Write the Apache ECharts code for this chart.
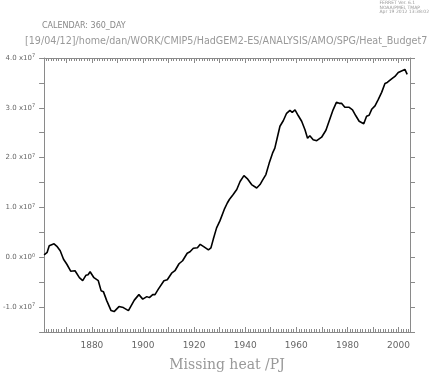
<!DOCTYPE html>
<html>
  <head>
    <meta charset="utf-8" />
    <title>Heat budget</title>
    <script src="https://cdn.jsdelivr.net/npm/echarts@6.0.0/dist/echarts.min.js"></script>
    <style>
      body { margin: 0; background: #fff; }
    </style>
  </head>
  <body>
    <div id="main" style="width: 434px; height: 377px"></div>

    <script type="text/javascript">
      // years (decimal year) and values in units of 1e7 PJ
      const years = [
        1861.3, 1862.5, 1863.3, 1865.2, 1866.3, 1867.6, 1868.9, 1870.2, 1871.7, 1873.4,
        1875.1, 1876.4, 1877.7, 1878.5, 1879.3, 1880.8, 1882.5, 1883.6, 1884.5, 1885.8,
        1887.5, 1888.7, 1890.6, 1892.3, 1894.3, 1896.6, 1898.4, 1899.9, 1901.5, 1902.5,
        1903.8, 1904.7, 1906.0, 1908.2, 1909.5, 1911.2, 1912.5, 1914.1, 1915.5, 1917.3,
        1918.4, 1919.7, 1921.3, 1922.4, 1923.9, 1925.6, 1926.6, 1927.5, 1928.8, 1930.1,
        1931.8, 1933.0, 1933.8, 1934.4, 1935.3, 1936.7, 1938.0, 1939.5, 1940.8, 1942.5,
        1944.5, 1945.8, 1946.8, 1948.1, 1949.4, 1950.7, 1951.6, 1952.5, 1953.6, 1954.9,
        1956.2, 1957.5, 1958.4, 1959.5, 1960.8, 1962.1, 1963.4, 1964.4, 1965.3, 1966.6,
        1968.0, 1969.9, 1971.6, 1973.1, 1974.4, 1975.7, 1976.8, 1977.7, 1979.0, 1980.7,
        1982.0, 1983.3, 1984.6, 1986.4, 1987.5, 1988.5, 1989.5, 1990.8, 1992.1, 1993.4,
        1994.7, 1995.6, 1997.3, 1998.6, 1999.9, 2001.2, 2002.5, 2003.4
      ]
      const heat = [
        0.05, 0.10, 0.23, 0.27, 0.22, 0.13, -0.04, -0.14, -0.28, -0.27,
        -0.41, -0.47, -0.36, -0.35, -0.29, -0.41, -0.47, -0.67, -0.69, -0.87,
        -1.07, -1.09, -0.99, -1.01, -1.07, -0.86, -0.75, -0.84, -0.79, -0.81,
        -0.75, -0.75, -0.64, -0.47, -0.45, -0.32, -0.27, -0.13, -0.07, 0.08,
        0.11, 0.18, 0.19, 0.26, 0.21, 0.15, 0.19, 0.36, 0.59, 0.73,
        0.96, 1.09, 1.16, 1.13, 1.26, 1.36, 1.52, 1.64, 1.58, 1.46,
        1.39, 1.46, 1.55, 1.66, 1.89, 2.09, 2.19, 2.39, 2.63, 2.74,
        2.89, 2.95, 2.91, 2.96, 2.84, 2.73, 2.56, 2.39, 2.44, 2.36,
        2.34, 2.41, 2.55, 2.77, 2.96, 3.11, 3.09, 3.09, 3.01, 3.01,
        2.96, 2.84, 2.73, 2.68, 2.83, 2.85, 2.97, 3.04, 3.17, 3.31,
        3.49, 3.51, 3.58, 3.63, 3.71, 3.74, 3.77, 3.67
      ]

      // tick labels
      const xLabels = [1880, 1900, 1920, 1940, 1960, 1980, 2000]
      const decadeTicks = [1870, 1880, 1890, 1900, 1910, 1920, 1930, 1940, 1950, 1960, 1970, 1980, 1990, 2000]
      const yearTicks = []
      for (let y = 1862; y <= 2004; y++) yearTicks.push(y)
      const yLabels = { '4': '4.0', '3': '3.0', '2': '2.0', '1': '1.0', '0': '0.0', '-1': '-1.0' }

      const data = years.map((yr, i) => [yr, heat[i]])

      const xMin = 1861.3
      const xMax = 2004.5
      const grey = '#8a8a8a'

      // one hidden-label x axis per tick set, on top and bottom
      function tickAxis(pos, ticks, len, showLine) {
        return {
          type: 'value',
          position: pos,
          min: xMin,
          max: xMax,
          axisLine: { show: showLine, onZero: false, lineStyle: { color: grey, width: 1 } },
          axisTick: { show: true, inside: true, length: len, customValues: ticks, lineStyle: { color: grey, width: 1 } },
          axisLabel: { show: false },
          splitLine: { show: false }
        }
      }

      var myChart = echarts.init(document.getElementById('main'))

      const option = {
        animation: false,
        backgroundColor: '#fff',
        title: [
          {
            text: 'FERRET Ver. 6.1\nNOAA/PMEL TMAP\nApr 19 2012 13:38:02',
            right: 5,
            top: 1,
            padding: 0,
            textStyle: { fontSize: 4.5, lineHeight: 4.5, fontWeight: 'normal', color: '#999', fontFamily: 'DejaVu Sans', align: 'center' }
          },
          {
            text: 'CALENDAR: 360_DAY',
            left: 42,
            top: 22,
            padding: 0,
            textStyle: { fontSize: 8, fontWeight: 'normal', color: '#888', fontFamily: 'DejaVu Sans' }
          },
          {
            text: '[19/04/12]/home/dan/WORK/CMIP5/HadGEM2-ES/ANALYSIS/AMO/SPG/Heat_Budget7',
            left: 25,
            top: 36,
            padding: 0,
            textStyle: { fontSize: 9.6, fontWeight: 'normal', color: '#999', fontFamily: 'DejaVu Sans' }
          }
        ],
        grid: { left: 44, right: 24, top: 58, bottom: 44 },
        xAxis: [
          {
            type: 'value',
            position: 'bottom',
            min: xMin,
            max: xMax,
            name: 'Missing heat /PJ',
            nameLocation: 'middle',
            nameGap: 26,
            nameTextStyle: { fontFamily: 'DejaVu Serif', fontSize: 14, color: '#999' },
            axisLine: { onZero: false, lineStyle: { color: grey, width: 1 } },
            axisTick: { show: true, inside: true, length: 5, customValues: decadeTicks, lineStyle: { color: grey } },
            axisLabel: {
              customValues: xLabels,
              margin: 9,
              fontSize: 9,
              color: '#666',
              fontFamily: 'DejaVu Sans',
              formatter: (v) => String(v)
            },
            splitLine: { show: false }
          },
          tickAxis('bottom', yearTicks, 3, false),
          tickAxis('top', decadeTicks, 5, true),
          tickAxis('top', yearTicks, 3, false)
        ],
        yAxis: [
          {
            type: 'value',
            position: 'left',
            min: -1.5,
            max: 4.0,
            interval: 0.5,
            axisLine: { show: true, onZero: false, lineStyle: { color: grey, width: 1 } },
            axisTick: { show: true, length: 5, lineStyle: { color: grey } },
            axisLabel: {
              margin: 9,
              formatter: function (v) {
                const key = String(Math.round(v * 10) / 10)
                if (!(key in yLabels)) return ''
                return '{m|' + yLabels[key] + ' x10}{s|' + (v === 0 ? '0' : '7') + '}'
              },
              rich: {
                m: { fontSize: 7, color: '#666', fontFamily: 'DejaVu Sans' },
                s: { fontSize: 5, color: '#666', fontFamily: 'DejaVu Sans', verticalAlign: 'bottom', padding: [0, 0, 4, 0] }
              }
            },
            splitLine: { show: false }
          },
          {
            type: 'value',
            position: 'right',
            min: -1.5,
            max: 4.0,
            interval: 0.5,
            axisLine: { show: true, onZero: false, lineStyle: { color: grey, width: 1 } },
            axisTick: { show: true, length: 5, lineStyle: { color: grey } },
            axisLabel: { show: false },
            splitLine: { show: false }
          }
        ],
        series: [
          {
            type: 'line',
            data,
            showSymbol: false,
            lineStyle: { color: '#000', width: 1.6 },
            xAxisIndex: 0,
            yAxisIndex: 0
          }
        ]
      }

      myChart.setOption(option)
    </script>
  </body>
</html>
